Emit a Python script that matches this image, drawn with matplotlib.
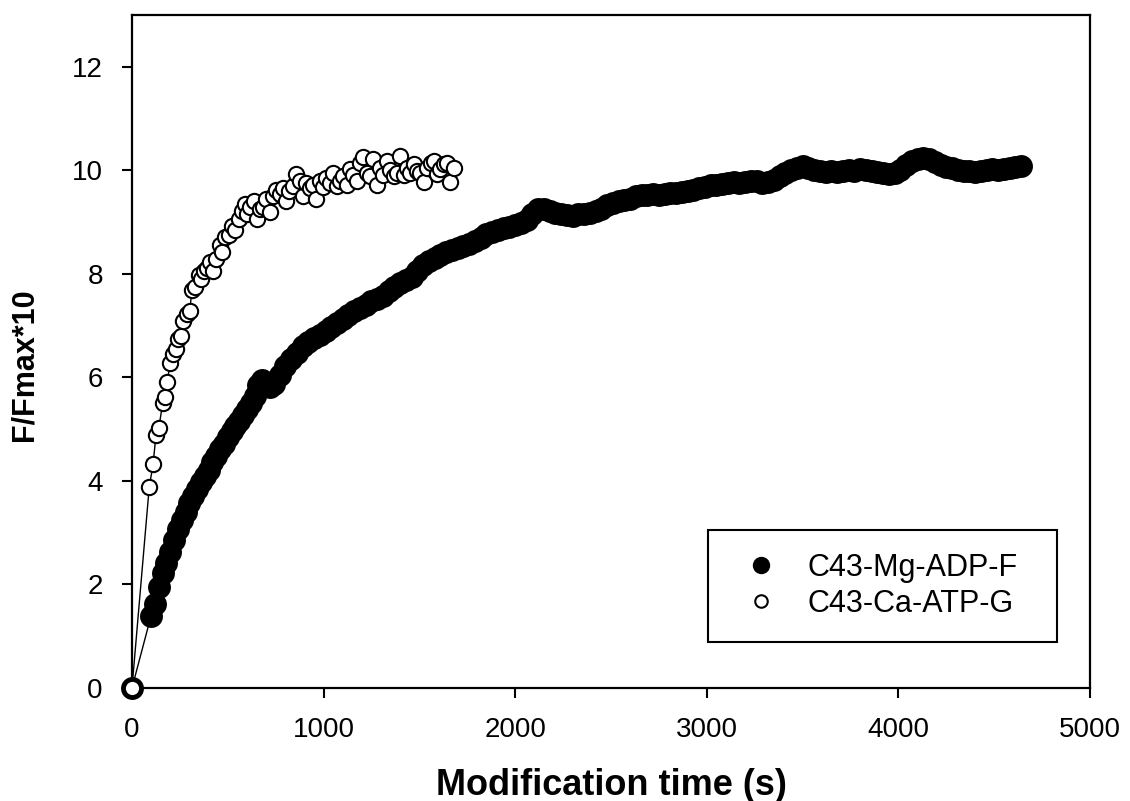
import matplotlib
matplotlib.use("Agg")
import matplotlib.pyplot as plt
from matplotlib.lines import Line2D
import numpy as np

plt.rcParams['font.family'] = ['Liberation Sans', 'DejaVu Sans']

# C43-Mg-ADP-F (filled circles)
mg_time = [0, 100, 120, 140, 160, 180, 200, 220, 240, 260, 280, 300, 320, 340, 360,
           380, 400, 420, 440, 460, 480, 500, 520, 540, 560, 580, 600, 620, 640, 660,
           680, 700, 720, 740, 770, 800, 830, 860, 890, 920, 950, 980, 1010, 1040,
           1070, 1100, 1130, 1160, 1190, 1220, 1250, 1280, 1310, 1340, 1370, 1400,
           1430, 1460, 1490, 1520, 1550, 1580, 1610, 1640, 1670, 1700, 1730, 1760,
           1790, 1820, 1850, 1880, 1910, 1940, 1970, 2000, 2030, 2060, 2090, 2120,
           2150, 2180, 2210, 2240, 2270, 2300, 2330, 2360, 2390, 2420, 2450, 2480,
           2510, 2540, 2570, 2600, 2630, 2660, 2690, 2720, 2750, 2780, 2810, 2840,
           2870, 2900, 2930, 2960, 2990, 3020, 3050, 3080, 3110, 3140, 3170, 3200,
           3230, 3260, 3290, 3320, 3350, 3380, 3410, 3440, 3470, 3500, 3530, 3560,
           3590, 3620, 3650, 3680, 3710, 3740, 3770, 3800, 3830, 3860, 3890, 3920,
           3950, 3980, 4010, 4040, 4070, 4100, 4130, 4160, 4190, 4220, 4250, 4280,
           4310, 4340, 4370, 4400, 4430, 4460, 4490, 4520, 4550, 4580, 4610, 4640]
mg_f = [0, 1.40, 1.62, 1.95, 2.22, 2.42, 2.63, 2.85, 3.08, 3.25, 3.40, 3.57, 3.71, 3.85,
        3.97, 4.10, 4.22, 4.36, 4.49, 4.61, 4.72, 4.84, 4.96, 5.06, 5.15, 5.27, 5.38,
        5.50, 5.64, 5.85, 5.95, 5.90, 5.82, 5.88, 6.05, 6.22, 6.35, 6.48, 6.60, 6.68,
        6.76, 6.82, 6.90, 6.98, 7.05, 7.12, 7.20, 7.28, 7.34, 7.40, 7.47, 7.52, 7.58,
        7.66, 7.74, 7.82, 7.88, 7.94, 8.05, 8.18, 8.24, 8.30, 8.36, 8.42, 8.46, 8.50,
        8.54, 8.58, 8.64, 8.70, 8.76, 8.80, 8.84, 8.88, 8.90, 8.94, 8.98, 9.04, 9.15,
        9.26, 9.25, 9.22, 9.18, 9.16, 9.14, 9.12, 9.15, 9.16, 9.18, 9.22, 9.26, 9.32,
        9.36, 9.40, 9.42, 9.45, 9.50, 9.52, 9.53, 9.54, 9.52, 9.55, 9.56, 9.57, 9.58,
        9.60, 9.62, 9.66, 9.68, 9.72, 9.72, 9.74, 9.76, 9.77, 9.75, 9.78, 9.80, 9.79,
        9.76, 9.78, 9.82, 9.88, 9.94, 10.00, 10.05, 10.08, 10.05, 10.00, 9.98, 9.97,
        9.99, 9.96, 9.98, 10.00, 9.98, 10.02, 10.00, 9.98, 9.96, 9.94, 9.92, 9.94,
        10.00, 10.10, 10.18, 10.22, 10.24, 10.22, 10.16, 10.10, 10.06, 10.04, 10.00,
        9.98, 9.98, 9.97, 9.99, 10.00, 10.02, 10.01, 10.03, 10.05, 10.07, 10.08]

# C43-Ca-ATP-G (open circles)
ca_time = [0, 90, 110, 125, 140, 160, 172, 185, 198, 212, 228, 242, 258, 268, 285, 302,
           312, 330, 348, 362, 378, 392, 408, 425, 440, 458, 472, 488, 505, 520, 540,
           556, 572, 588, 602, 618, 635, 650, 668, 685, 700, 718, 735, 752, 770, 788,
           805, 822, 840, 858, 875, 892, 910, 928, 945, 962, 980, 998, 1015, 1032,
           1050, 1068, 1085, 1102, 1120, 1138, 1155, 1172, 1190, 1208, 1225, 1242,
           1260, 1278, 1295, 1312, 1330, 1348, 1365, 1382, 1400, 1418, 1435, 1452,
           1470, 1488, 1505, 1522, 1540, 1558, 1575, 1592, 1610, 1628, 1645, 1662, 1680]
ca_f = [0, 3.88, 4.32, 4.88, 5.02, 5.50, 5.62, 5.92, 6.28, 6.45, 6.55, 6.75, 6.80, 7.08,
        7.22, 7.28, 7.68, 7.74, 7.98, 7.90, 8.05, 8.12, 8.22, 8.05, 8.28, 8.55, 8.42,
        8.72, 8.75, 8.92, 8.85, 9.05, 9.22, 9.35, 9.15, 9.30, 9.40, 9.05, 9.25, 9.30,
        9.45, 9.20, 9.50, 9.62, 9.55, 9.65, 9.40, 9.60, 9.70, 9.92, 9.80, 9.50, 9.75,
        9.65, 9.72, 9.45, 9.80, 9.68, 9.85, 9.75, 9.95, 9.70, 9.80, 9.88, 9.72, 10.02,
        9.90, 9.80, 10.15, 10.25, 9.95, 9.88, 10.22, 9.72, 10.05, 9.90, 10.18, 10.00,
        9.88, 9.95, 10.28, 9.90, 10.05, 9.95, 10.12, 9.98, 9.95, 9.78, 10.05, 10.15,
        10.18, 9.92, 10.02, 10.12, 10.14, 9.78, 10.05]

labels = ['C43-Mg-ADP-F', 'C43-Ca-ATP-G']

fig = plt.figure(figsize=(11.3, 8.01), dpi=100)
ax = fig.add_axes([0.1168, 0.1411, 0.8478, 0.8402])

ax.plot(mg_time, mg_f, '-o', color='black', lw=1, ms=15, mfc='black', mec='black',
        mew=1.5, clip_on=False, zorder=3)
ax.plot(ca_time, ca_f, '-o', color='black', lw=1, ms=11, mfc='white', mec='black',
        mew=1.5, clip_on=False, zorder=4)

ax.set_xlim(0, 5000)
ax.set_ylim(0, 13)
ax.set_xticks(np.arange(0, 5001, 1000))
ax.set_yticks(np.arange(0, 13, 2))

for s in ax.spines.values():
    s.set_linewidth(1.6)
ax.tick_params(direction='out', length=7, width=1.5, labelsize=20, pad=14,
               top=False, right=False)

ax.set_xlabel('Modification time (s)', fontsize=26, fontweight='bold', labelpad=18)
ax.set_ylabel('F/Fmax*10', fontsize=22, fontweight='bold')
ax.yaxis.set_label_coords(-0.097, 0.48)

# legend: symbols only, no line
handles = [Line2D([], [], ls='none', marker='o', ms=11, mfc='black', mec='black', mew=1.5),
           Line2D([], [], ls='none', marker='o', ms=9, mfc='white', mec='black', mew=1.5)]
leg = ax.legend(handles, labels, loc='upper left',
                bbox_to_anchor=(0.601, 0.067, 0.3645, 0.168), mode='expand',
                fontsize=22, frameon=True, fancybox=False, edgecolor='black',
                framealpha=1, handlelength=2.0, handletextpad=0.5,
                borderpad=0.75, labelspacing=0.2, borderaxespad=0)
leg.get_frame().set_linewidth(1.5)

fig.savefig('out.png', dpi=100)
